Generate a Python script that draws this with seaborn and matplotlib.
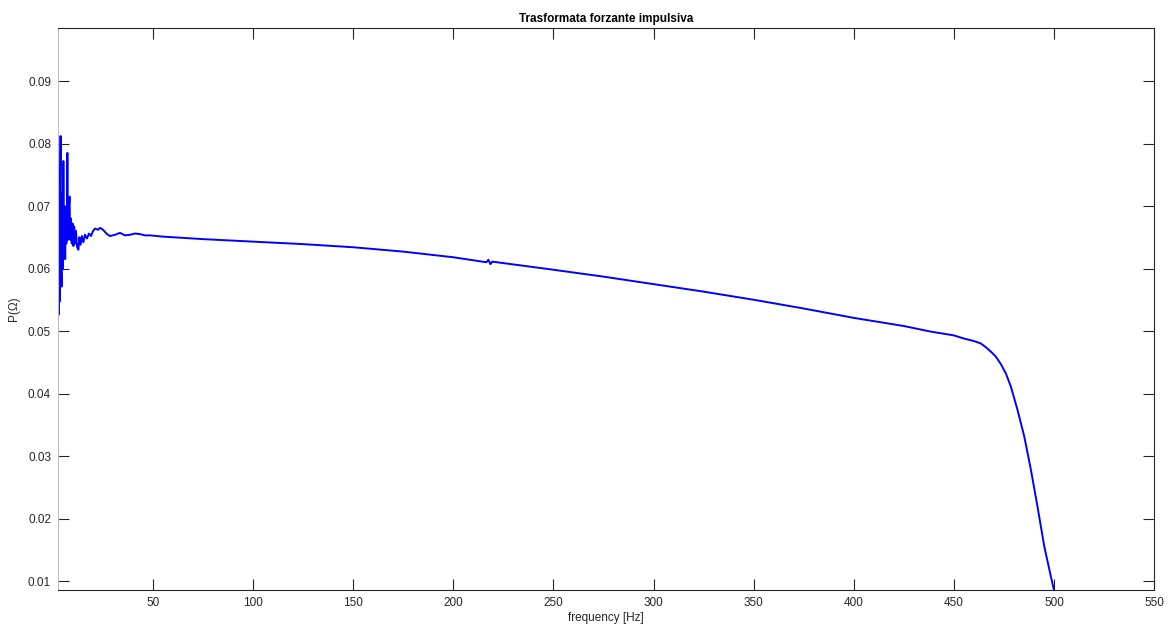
import matplotlib
matplotlib.use("Agg")
import matplotlib.pyplot as plt
import numpy as np
import pandas as pd
import seaborn as sns

# frequency [Hz] and P(Omega)
freq = [
    2.5, 2.7, 2.9, 3.1, 3.3, 3.5, 3.8, 4.0, 4.3, 4.6, 4.9, 5.2, 5.5, 5.8, 6.1,
    6.4, 6.7, 7.0, 7.2, 7.5, 7.8, 8.3, 8.6, 9.0, 9.4, 9.8, 10.2, 10.6, 11.0,
    11.5, 12.0, 12.7, 13.2, 13.8, 14.5, 15.2, 16.0, 17.0, 18.0, 19.0, 20.0,
    21.0, 22.5, 23.5, 25.0, 27.0, 28.5, 31.0, 33.5, 36.0, 38.5, 41.0, 43.5,
    46.0, 48.5, 55, 75, 100, 125, 150, 175, 200, 216.5, 217.5, 218.5, 219.5,
    250, 275, 300, 325, 350, 375, 400, 425, 438.5, 450, 455, 460, 463.5, 466,
    468.5, 471, 473.5, 476, 478.5, 481.8, 485.2, 488.5, 491.8, 495.2, 498.5,
    500,
]
power = [
    0.0600, 0.0715, 0.0526, 0.0745, 0.0547, 0.0700, 0.0812, 0.0620, 0.0571,
    0.0720, 0.0600, 0.0772, 0.0638, 0.0700, 0.0615, 0.0690, 0.0640, 0.0700,
    0.0785, 0.0646, 0.0690, 0.0715, 0.0646, 0.0680, 0.0640, 0.0672, 0.0636,
    0.0667, 0.0640, 0.0660, 0.0635, 0.0630, 0.0650, 0.0638, 0.0652, 0.0642,
    0.0654, 0.0648, 0.0656, 0.0652, 0.0660, 0.0664, 0.0662, 0.0665, 0.0662,
    0.0655, 0.0652, 0.0654, 0.0657, 0.0653, 0.0654, 0.0656, 0.0655, 0.0653,
    0.0653, 0.0651, 0.0647, 0.0643, 0.0639, 0.0634, 0.0627, 0.0618, 0.0610,
    0.0614, 0.0607, 0.0611, 0.0598, 0.0587, 0.0575, 0.0563, 0.0550, 0.0536,
    0.0521, 0.0508, 0.0499, 0.0493, 0.0488, 0.0484, 0.0480, 0.0474, 0.0467,
    0.0459, 0.0447, 0.0432, 0.0411, 0.0374, 0.0331, 0.0278, 0.0219, 0.0155,
    0.0107, 0.0086,
]
xticks = [50, 100, 150, 200, 250, 300, 350, 400, 450, 500, 550]
yticks = [0.01, 0.02, 0.03, 0.04, 0.05, 0.06, 0.07, 0.08, 0.09]

df = pd.DataFrame({"freq": freq, "power": power})

sns.set_theme(style="white")
plt.rcParams["font.family"] = ["Liberation Sans", "DejaVu Sans"]
ink = "#262626"

fig = plt.figure(figsize=(11.71, 6.28), dpi=100)
ax = fig.add_axes([0.0495, 0.0605, 0.936, 0.8949])

sns.lineplot(data=df, x="freq", y="power", color="blue", linewidth=1.4, ax=ax)

ax.set_xlim(2.5, 550)
ax.set_ylim(0.00856, 0.09848)
ax.set_xticks(xticks)
ax.set_yticks(yticks)
ax.set_yticklabels([f"{v:.2f}" for v in yticks])

for side, sp in ax.spines.items():
    sp.set_visible(True)
    sp.set_color(ink)
    sp.set_linewidth(0.8)
ax.spines["left"].set_color("#bdbdbd")

ax.tick_params(direction="in", length=8, width=0.8, colors=ink, labelsize=8.5,
               top=True, right=True, bottom=True, left=True, pad=5)

ax.set_title("Trasformata forzante impulsiva", fontsize=8.5, fontweight="bold",
             color="black", pad=4)
ax.set_xlabel("frequency [Hz]", fontsize=8.5, color=ink, labelpad=2)
ax.set_ylabel("P(Ω)", fontsize=8.5, color=ink, labelpad=6)

fig.savefig("out.png", dpi=100)
